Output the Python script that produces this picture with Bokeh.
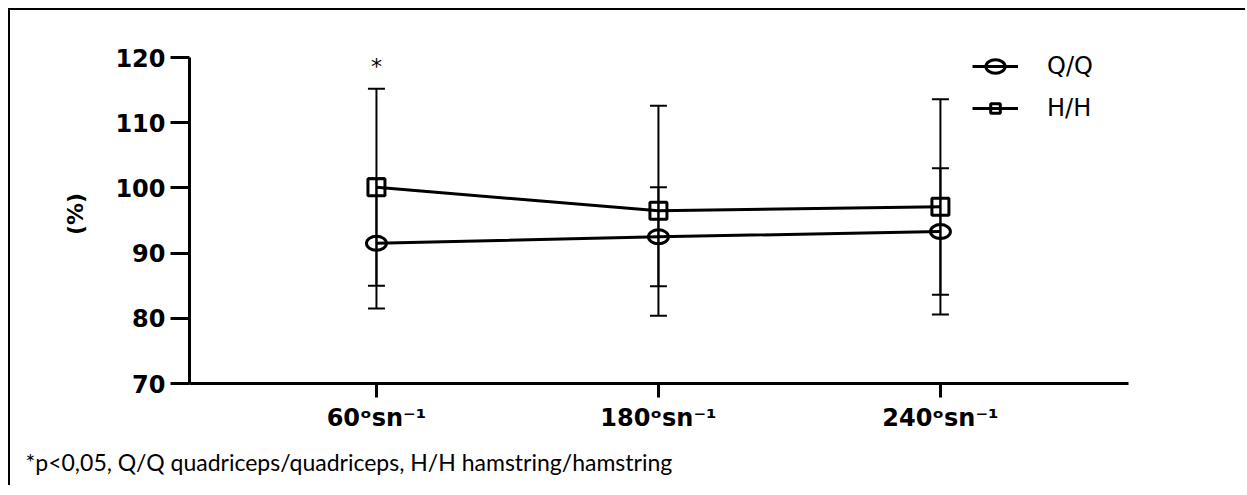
from bokeh.plotting import figure
from bokeh.models import (Range1d, FixedTicker, Whisker, TeeHead, ColumnDataSource,
                          Legend, LegendItem, Title)
from bokeh.core.properties import value
from bokeh.embed import file_html
from bokeh.resources import INLINE

# ---- data ----
categories = ["60ᵒsn⁻¹", "180ᵒsn⁻¹", "240ᵒsn⁻¹"]
x_pos = [1, 2, 3]
qq_mean = [91.5, 92.5, 93.3]
qq_sd = [10.0, 7.6, 9.7]
hh_mean = [100.1, 96.5, 97.1]
hh_sd = [15.1, 16.1, 16.5]
y_ticks = [70, 80, 90, 100, 110, 120]
sig_x = [1]
sig_y = [118.7]
sig_text = ["*"]
series_names = ["Q/Q", "H/H"]
y_label = "(%)"
footnote = "*p<0,05, Q/Q quadriceps/quadriceps, H/H hamstring/hamstring"

p = figure(width=1237, height=477,
           x_range=Range1d(0.337, 3.667), y_range=Range1d(70, 122),
           output_backend="svg", toolbar_location=None,
           min_border_left=179, min_border_right=119,
           min_border_top=34, min_border_bottom=103,
           styles={"margin-left": "8px", "margin-top": "8px",
                   "border-left": "2px solid black", "border-top": "2px solid black"})
p.xgrid.visible = False
p.ygrid.visible = False
p.outline_line_color = None

# axes
for ax in (p.xaxis, p.yaxis):
    ax.axis_line_width = 3
    ax.axis_line_color = "black"
    ax.major_tick_line_width = 3
    ax.major_tick_line_color = "black"
    ax.minor_tick_line_color = None
    ax.major_tick_in = 0
    ax.major_label_text_color = "black"
    ax.major_label_text_font = "DejaVu Sans"
    ax.major_label_text_font_style = "bold"

p.xaxis.ticker = FixedTicker(ticks=x_pos)
p.xaxis.major_label_overrides = {x: c for x, c in zip(x_pos, categories)}
p.xaxis.major_tick_out = 14
p.xaxis.major_label_standoff = 6
p.xaxis.major_label_text_font_size = "24px"

p.yaxis.ticker = FixedTicker(ticks=y_ticks)
p.yaxis.bounds = (y_ticks[0], y_ticks[-1])
p.yaxis.major_tick_out = 19
p.yaxis.major_label_standoff = 5
p.yaxis.major_label_text_font_size = "24px"
p.yaxis.axis_label = y_label
p.yaxis.axis_label_text_font = "DejaVu Sans"
p.yaxis.axis_label_text_font_style = "bold"
p.yaxis.axis_label_text_font_size = "22px"
p.yaxis.axis_label_standoff = 24
p.yaxis.axis_label_text_color = "black"

# error bars
qq_src = ColumnDataSource(dict(x=x_pos,
                               upper=[m + s for m, s in zip(qq_mean, qq_sd)],
                               lower=[m - s for m, s in zip(qq_mean, qq_sd)]))
hh_src = ColumnDataSource(dict(x=x_pos,
                               upper=[m + s for m, s in zip(hh_mean, hh_sd)],
                               lower=[m - s for m, s in zip(hh_mean, hh_sd)]))
for src in (qq_src, hh_src):
    w = Whisker(base="x", upper="upper", lower="lower", source=src,
                line_width=2, line_color="black",
                upper_head=TeeHead(size=17, line_width=2, line_color="black"),
                lower_head=TeeHead(size=17, line_width=2, line_color="black"))
    p.add_layout(w)

# series
qq_line = p.line(x_pos, qq_mean, line_width=3, line_color="black")
qq_mk = p.ellipse(x=x_pos, y=qq_mean, width=20, height=14,
                  width_units="screen", height_units="screen",
                  fill_alpha=0, line_color="black", line_width=3)
hh_line = p.line(x_pos, hh_mean, line_width=3, line_color="black")
hh_mk = p.scatter(x=x_pos, y=hh_mean, marker="square", size=17,
                  fill_alpha=0, line_color="black", line_width=3)

# significance mark
p.text(x=sig_x, y=sig_y, text=sig_text, text_align="center", text_baseline="middle",
       text_font=value("DejaVu Sans"), text_font_size="22px", text_color="black")

legend = Legend(items=[LegendItem(label=series_names[0], renderers=[qq_line, qq_mk]),
                       LegendItem(label=series_names[1], renderers=[hh_line, hh_mk])],
                location=(783, 261), glyph_width=46, glyph_height=24, label_height=24,
                label_standoff=29, spacing=14, padding=0, margin=0,
                border_line_color=None, background_fill_alpha=0,
                label_text_font="DejaVu Sans", label_text_font_size="24px",
                label_text_color="black")
p.add_layout(legend)

note = Title(text=footnote, align="left", offset=-164, standoff=23,
             text_font="Lato", text_font_size="23px", text_font_style="normal",
             text_color="black")
p.add_layout(note, "below")

open("out.html", "w").write(file_html(p, INLINE))
